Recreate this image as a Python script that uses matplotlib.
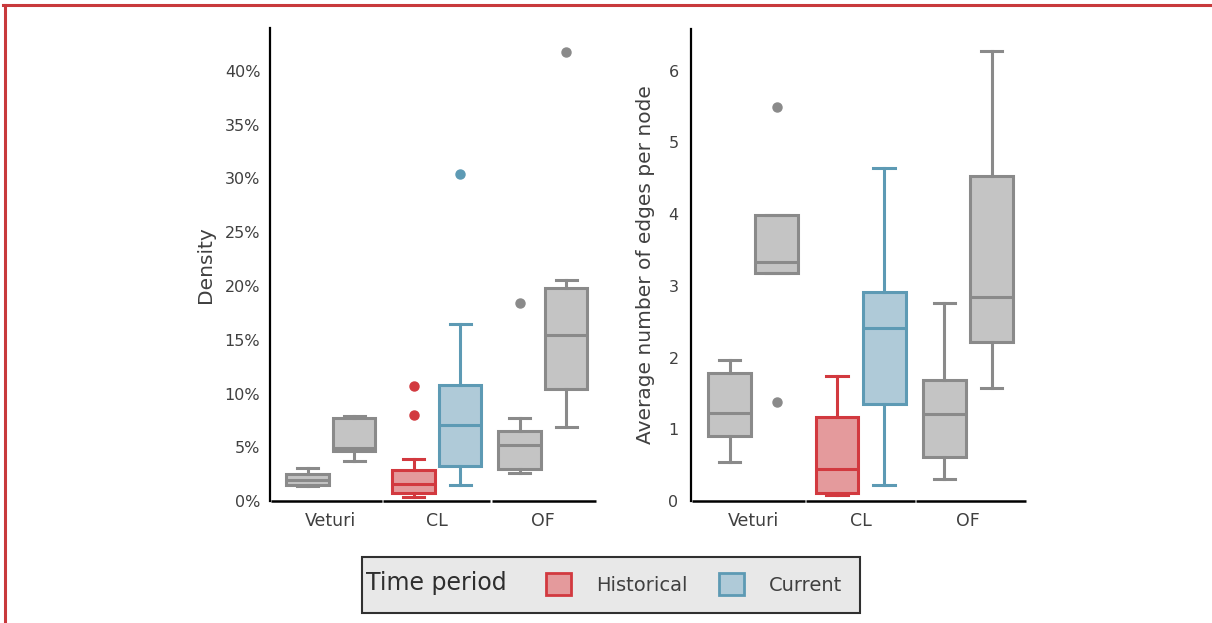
import matplotlib.pyplot as plt
from matplotlib.lines import Line2D
from matplotlib.patches import Patch, Rectangle
from matplotlib.ticker import FuncFormatter

plt.rcParams['font.family'] = ['DejaVu Sans']

categories = ["Veturi", "CL", "OF"]
periods = ["Historical", "Current"]

# box order: Veturi-H, Veturi-C, CL-H, CL-C, OF-H, OF-C
density_lo = [1.35, 3.75, 0.40, 1.50, 2.65, 6.85]
density_q1 = [1.50, 4.65, 0.72, 3.25, 2.95, 10.45]
density_med = [2.00, 4.90, 1.55, 7.05, 5.25, 15.40]
density_q3 = [2.55, 7.70, 2.90, 10.80, 6.55, 19.85]
density_hi = [3.05, 7.90, 3.95, 16.45, 7.70, 20.60]
density_out = [[], [], [8.0, 10.7], [30.4], [18.4], [41.8]]

edges_lo = [0.54, 3.18, 0.09, 0.22, 0.30, 1.57]
edges_q1 = [0.91, 3.18, 0.11, 1.35, 0.61, 2.22]
edges_med = [1.23, 3.33, 0.45, 2.41, 1.21, 2.85]
edges_q3 = [1.78, 3.99, 1.17, 2.91, 1.68, 4.53]
edges_hi = [1.96, 3.99, 1.74, 4.64, 2.76, 6.27]
edges_out = [[], [1.38, 5.49], [], [], [], []]

gray = ("#c4c4c4", "#8a8a8a")
red = ("#e49a9c", "#d2393f")
blue = ("#afcad8", "#5d9ab4")
box_colors = [gray, gray, red, blue, gray, gray]
text_color = "#404040"


def make_stats(lo, q1, med, q3, hi, out):
    return [dict(whislo=lo[i], q1=q1[i], med=med[i], q3=q3[i], whishi=hi[i],
                 fliers=out[i]) for i in range(len(lo))]


def draw_panel(ax, stats, ymax, xlim, ylabel, label_x):
    positions = []
    for c in range(len(categories)):
        positions += [c - 0.22, c + 0.22]
    parts = ax.bxp(stats, positions=positions, widths=0.4, patch_artist=True,
                   showfliers=True, manage_ticks=False)
    for i, (fill, edge) in enumerate(box_colors):
        parts["boxes"][i].set(facecolor=fill, edgecolor=edge, linewidth=2.2)
        parts["medians"][i].set(color=edge, linewidth=2.2)
        for w in parts["whiskers"][2 * i:2 * i + 2]:
            w.set(color=edge, linewidth=2.2)
        for cap in parts["caps"][2 * i:2 * i + 2]:
            cap.set(color=edge, linewidth=2.2)
        parts["fliers"][i].set(marker="o", markerfacecolor=edge,
                               markeredgecolor=edge, markersize=6.5)

    ax.set_xlim(*xlim)
    ax.set_ylim(0, ymax)
    ax.set_xticks(range(len(categories)))
    ax.set_xticklabels(categories)
    for side in ("top", "right", "bottom"):
        ax.spines[side].set_visible(False)
    ax.spines["left"].set_linewidth(1.6)
    ax.tick_params(length=0, labelsize=11.5, colors=text_color)
    ax.tick_params(axis="x", pad=8, labelsize=12.5)
    ax.set_ylabel(ylabel, fontsize=14.5, color=text_color)
    ax.yaxis.set_label_coords(label_x, 0.5)

    # bottom axis drawn as one short segment per category
    tr = ax.get_xaxis_transform()
    bounds = [xlim[0], 0.49, 1.51, xlim[1]]
    for a, b in zip(bounds[:-1], bounds[1:]):
        ax.plot([a + 0.005, b - 0.005], [0, 0], color="black", lw=1.8,
                transform=tr, clip_on=False, solid_capstyle="butt")


fig = plt.figure(figsize=(12.12, 6.23), dpi=100)
W, H = 1212, 623


def px_axes(x0, y0, x1, y1):
    return fig.add_axes([x0 / W, 1 - y1 / H, (x1 - x0) / W, (y1 - y0) / H])


ax1 = px_axes(270, 28, 597, 501)
draw_panel(ax1, make_stats([v / 100 for v in density_lo],
                           [v / 100 for v in density_q1],
                           [v / 100 for v in density_med],
                           [v / 100 for v in density_q3],
                           [v / 100 for v in density_hi],
                           [[v / 100 for v in o] for o in density_out]),
           0.44, (-0.575, 2.51), "Density", -0.168)
ax1.set_yticks([i * 0.05 for i in range(9)])
ax1.yaxis.set_major_formatter(FuncFormatter(lambda v, p: f"{v * 100:.0f}%"))
ax1.tick_params(axis="y", pad=7)

ax2 = px_axes(691, 29, 1027, 501)
draw_panel(ax2, make_stats(edges_lo, edges_q1, edges_med, edges_q3,
                           edges_hi, edges_out),
           6.58, (-0.58, 2.55), "Average number of edges per node", -0.107)
ax2.set_yticks(range(7))
ax2.tick_params(axis="y", pad=9)

# legend with the title set inline on its left
fig.add_artist(Rectangle((362 / W, 1 - 613 / H), 498 / W, 56 / H,
                         transform=fig.transFigure, facecolor="#e8e8e8",
                         edgecolor="#303030", linewidth=1.5))
fig.text(366 / W, 1 - 583 / H, "Time period", fontsize=17, color="#2e2e2e",
         va="center", ha="left")
handles = [Patch(facecolor=red[0], edgecolor=red[1], linewidth=2),
           Patch(facecolor=blue[0], edgecolor=blue[1], linewidth=2)]
fig.legend(handles, periods, loc="center left",
           bbox_to_anchor=(528 / W, 1 - 584 / H), ncol=2, frameon=False,
           fontsize=14, handlelength=1.3, handleheight=1.3,
           handletextpad=1.3, columnspacing=1.6, labelcolor=text_color)

# red frame round the figure
fig.add_artist(Line2D([3 / W, 1], [1 - 4.5 / H] * 2, color="#c8393c", lw=2.2,
                      transform=fig.transFigure))
fig.add_artist(Line2D([4.5 / W] * 2, [0, 1 - 4.5 / H], color="#c8393c", lw=2.2,
                      transform=fig.transFigure))

fig.savefig("out.png", dpi=100, facecolor="white")
